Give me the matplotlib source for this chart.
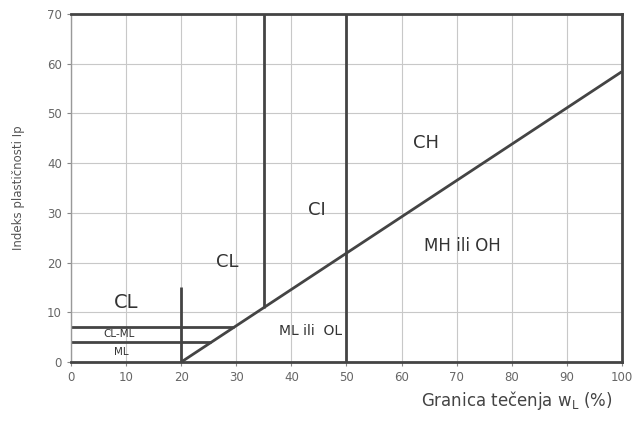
import matplotlib
matplotlib.use("Agg")
from matplotlib import pyplot as plt

# Casagrande plasticity chart
a_line_x = [20, 100]
a_line_y = [0, 58.4]
v35_x = [35, 35]
v35_y = [10.95, 70]
v50_x = [50, 50]
v50_y = [0, 70]
v20_x = [20, 20]
v20_y = [0, 15]
h7_x = [0, 29.6]
h7_y = [7, 7]
h4_x = [0, 25.5]
h4_y = [4, 4]

zones = ["CH", "CI", "CL", "MH ili OH", "ML ili  OL", "CL", "CL-ML", "ML"]
zone_x = [64.5, 44.6, 28.3, 71, 43.5, 10, 8.8, 9.2]
zone_y = [44, 30.5, 20.2, 23.3, 6.2, 12, 5.6, 2]
zone_size = [13, 13, 13, 12, 10, 14, 7.5, 7.5]

fig = plt.figure(figsize=(6.34, 4.21), dpi=100)
ax = fig.add_axes([0.112, 0.14, 0.869, 0.827])

lc = "#444444"
for xs, ys in [(a_line_x, a_line_y), (v35_x, v35_y), (v50_x, v50_y),
               (v20_x, v20_y), (h7_x, h7_y), (h4_x, h4_y)]:
    ax.plot(xs, ys, color=lc, lw=2, solid_capstyle="butt")

for t, x, y, s in zip(zones, zone_x, zone_y, zone_size):
    ax.text(x, y, t, fontsize=s, color="#333333", ha="center", va="center")

ax.set_xlim(0, 100)
ax.set_ylim(0, 70)
ax.set_xticks(range(0, 101, 10))
ax.set_yticks(range(0, 71, 10))
ax.grid(True, color="#c8c8c8", lw=0.8)
ax.set_axisbelow(True)
for side in ["top", "right", "bottom"]:
    ax.spines[side].set_color(lc)
    ax.spines[side].set_linewidth(2)
ax.spines["left"].set_color("#999999")
ax.spines["left"].set_linewidth(1)
ax.tick_params(colors="#888888", labelsize=8.5, length=3, labelcolor="#666666")

ax.set_ylabel("Indeks plastičnosti Ip", fontsize=8.5, color="#555555", labelpad=16)
fig.text(0.967, 0.022, "Granica tečenja w$_\\mathregular{L}$ (%)", fontsize=12,
         color="#444444", ha="right", va="bottom")

plt.savefig("out.png", dpi=100)
